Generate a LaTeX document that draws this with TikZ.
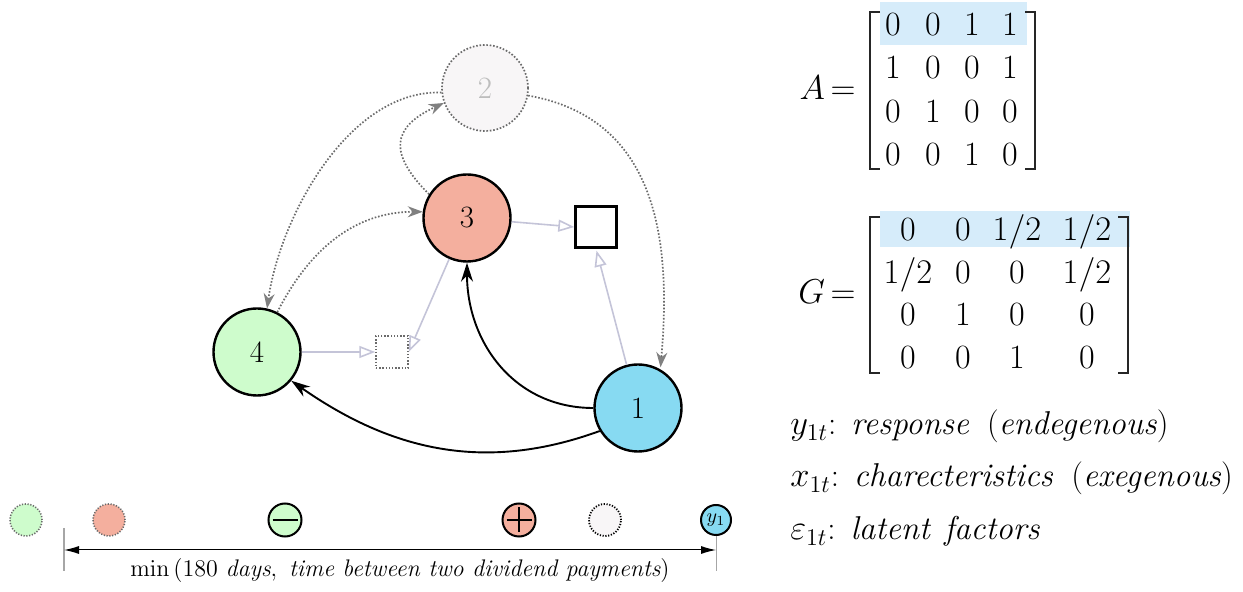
\documentclass[tikz,border=0pt]{standalone}
\usetikzlibrary{arrows.meta}
\definecolor{cone}{HTML}{87DAF2}
\definecolor{ctwo}{HTML}{F8F6F7}
\definecolor{cthree}{HTML}{F4AF9E}
\definecolor{cfour}{HTML}{CEFCCC}
\definecolor{hil}{HTML}{D6ECFA}
\definecolor{lightedge}{HTML}{C4C4D8}
\definecolor{dotedge}{HTML}{6A6A6A}
\definecolor{labgray}{HTML}{BDBDBD}
\newcommand\fsmat{\fontsize{17}{20}\selectfont}
\newcommand\fsleg{\fontsize{16.5}{20}\selectfont}
\newcommand\fslab{\fontsize{15.5}{18}\selectfont}
\newcommand\fsbot{\fontsize{12}{14}\selectfont}
\newcommand\fstiny{\fontsize{10}{12}\selectfont}
\begin{document}
\begin{tikzpicture}[x=0.5pt,y=0.5pt,
  big/.style={circle, minimum size=43.5pt, inner sep=0pt, draw=black, line width=1.2pt, font=\fslab},
  bigdot/.style={circle, minimum size=43pt, inner sep=0pt, draw=dotedge, line width=0.85pt, dash pattern=on 0.8pt off 0.9pt, font=\fslab},
  sqbox/.style={rectangle, minimum size=20.5pt, inner sep=0pt, draw=black, line width=1.2pt},
  dsqbox/.style={rectangle, minimum size=16pt, inner sep=0pt, draw=dotedge, line width=0.75pt, dash pattern=on 0.7pt off 0.9pt},
  ledge/.style={draw=lightedge, line width=0.8pt, -{Triangle[open,length=8pt,width=6pt]}},
  bedge/.style={draw=black, line width=0.95pt, -{Stealth[length=9.5pt,width=6pt]}},
  dedge/.style={draw=dotedge, line width=0.85pt, dash pattern=on 0.8pt off 0.9pt, -{Stealth[length=7.5pt,width=5.5pt,color=dotedge!85]}},
  ent/.style={anchor=base, inner sep=0pt, font=\fsmat},
  brk/.style={line width=0.6pt, draw=black!85},
  dotc/.style={circle, minimum size=16pt, inner sep=0pt, draw=dotedge, line width=0.8pt, dash pattern=on 0.6pt off 0.8pt},
  solc/.style={circle, minimum size=16.5pt, inner sep=0pt, draw=black, line width=1pt},
  tickln/.style={draw=black!35, line width=0.8pt},
  rtext/.style={anchor=base west, inner sep=0pt, font=\fsleg}
]
\useasboundingbox (0,0) rectangle (1243,-592);

% ---- graph nodes
\node[bigdot, fill=ctwo, text=labgray] (n2) at (485,-88) {2};
\node[big, fill=cthree] (n3) at (467,-218) {3};
\node[big, fill=cfour] (n4) at (257,-352) {4};
\node[big, fill=cone] (n1) at (638,-408) {1};
\node[sqbox, fill=white] (sq) at (596,-227) {};
\node[dsqbox] (dsq) at (392,-352) {};

% ---- light edges
\draw[ledge] (n3) -- (sq.west);
\draw[ledge, shorten >=1pt] (n1) -- (sq.south);
\draw[ledge] (n4) -- (dsq.west);
\draw[ledge] (n3) -- (dsq.east);

% ---- black edges
\draw[bedge] (n1.west) to[out=180,in=-90,looseness=1.05] (n3.south);
\draw[bedge] (n1.211) to[out=200,in=-35] (n4.-40);

% ---- dotted edges
\draw[dedge] (n3.148) to[out=135,in=205,looseness=1.6] (n2.200);
\draw[dedge] (n2.186) to[out=178,in=82,looseness=0.85] (n4.77);
\draw[dedge] (n4.63) to[out=63,in=180] (n3.172);
\draw[dedge, shorten >=1pt] (n2.-10) to[out=-10,in=85,looseness=1.1] (n1.60);

% ---- matrix A
\fill[hil] (880,-2) rectangle (1027,-45);
\node[ent, anchor=base east] (Alab) at (856,-100) {$A\mkern-2mu=$};
\draw[brk] (880,-12) -- (870,-12) -- (870,-169) -- (880,-169);
\draw[brk] (1025,-12) -- (1035,-12) -- (1035,-169) -- (1025,-169);
\node[ent] (a11) at (893,-36) {0};
\node[ent] (a12) at (933,-36) {0};
\node[ent] (a13) at (972,-36) {1};
\node[ent] (a14) at (1010,-36) {1};
\node[ent] (a21) at (893,-79) {1};
\node[ent] (a22) at (933,-79) {0};
\node[ent] (a23) at (972,-79) {0};
\node[ent] (a24) at (1010,-79) {1};
\node[ent] (a31) at (893,-122.5) {0};
\node[ent] (a32) at (933,-122.5) {1};
\node[ent] (a33) at (972,-122.5) {0};
\node[ent] (a34) at (1010,-122.5) {0};
\node[ent] (a41) at (893,-165.5) {0};
\node[ent] (a42) at (933,-165.5) {0};
\node[ent] (a43) at (972,-165.5) {1};
\node[ent] (a44) at (1010,-165.5) {0};

% ---- matrix G
\fill[hil] (880,-211) rectangle (1130,-247);
\node[ent, anchor=base east] (Glab) at (856,-304) {$G\mkern-2mu=$};
\draw[brk] (880,-217) -- (870,-217) -- (870,-373) -- (880,-373);
\draw[brk] (1118,-217) -- (1128,-217) -- (1128,-373) -- (1118,-373);
\node[ent] (g11) at (908,-240.5) {0};
\node[ent] (g12) at (963,-240.5) {0};
\node[ent] (g13) at (1017,-240.5) {$1/2$};
\node[ent] (g14) at (1087,-240.5) {$1/2$};
\node[ent] (g21) at (908,-283.5) {$1/2$};
\node[ent] (g22) at (963,-283.5) {0};
\node[ent] (g23) at (1017,-283.5) {0};
\node[ent] (g24) at (1087,-283.5) {$1/2$};
\node[ent] (g31) at (908,-325.5) {0};
\node[ent] (g32) at (963,-325.5) {1};
\node[ent] (g33) at (1017,-325.5) {0};
\node[ent] (g34) at (1087,-325.5) {0};
\node[ent] (g41) at (908,-368.5) {0};
\node[ent] (g42) at (963,-368.5) {0};
\node[ent] (g43) at (1017,-368.5) {1};
\node[ent] (g44) at (1087,-368.5) {0};

% ---- legend texts
\node[rtext] (t1) at (790,-435) {$y_{1t}$:\hspace{0.45em}\textit{response}\hspace{0.55em}(\textit{endegenous})};
\node[rtext] (t2) at (790,-487) {$x_{1t}$:\hspace{0.45em}\textit{charecteristics}\hspace{0.55em}(\textit{exegenous})};
\node[rtext] (t3) at (790,-540) {$\varepsilon_{1t}$:\hspace{0.45em}\textit{latent}\hspace{0.4em}\textit{factors}};

% ---- timeline
\node[dotc, fill=cfour] (b1) at (26,-520) {};
\node[dotc, fill=cthree] (b2) at (109,-520) {};
\node[solc, fill=cfour] (b3) at (285,-520) {};
\draw[line width=1.2pt] ([xshift=2.5pt]b3.west) -- ([xshift=-2.5pt]b3.east);
\node[solc, fill=cthree] (b4) at (519,-520) {};
\draw[line width=1.2pt] ([xshift=2.5pt]b4.west) -- ([xshift=-2.5pt]b4.east);
\draw[line width=1.2pt] ([yshift=-2.5pt]b4.north) -- ([yshift=2.5pt]b4.south);
\node[dotc, fill=ctwo, draw=black, line width=0.9pt] (b5) at (605,-520) {};
\node[solc, fill=cone, minimum size=15pt, font=\fstiny] (b6) at (716,-520) {$y_1$};
\coordinate (tl1) at (64,-528);
\coordinate (tl2) at (64,-571);
\coordinate (tr2) at (716,-571);
\draw[tickln] (tl1) -- (tl2);
\draw[tickln, line width=0.5pt] (b6.south) -- (tr2);
\coordinate (al) at (64,-550);
\coordinate (ar) at (716,-550);
\draw[line width=0.5pt, {Latex[length=7.5pt,width=4pt]}-{Latex[length=7.5pt,width=4pt]}] (al) -- (ar);
\node[anchor=base, inner sep=0pt, font=\fsbot] (blab) at (400,-577) {$\min\,(180\ \textit{days},\ \textit{time between two dividend payments})$};
\end{tikzpicture}
\end{document}
